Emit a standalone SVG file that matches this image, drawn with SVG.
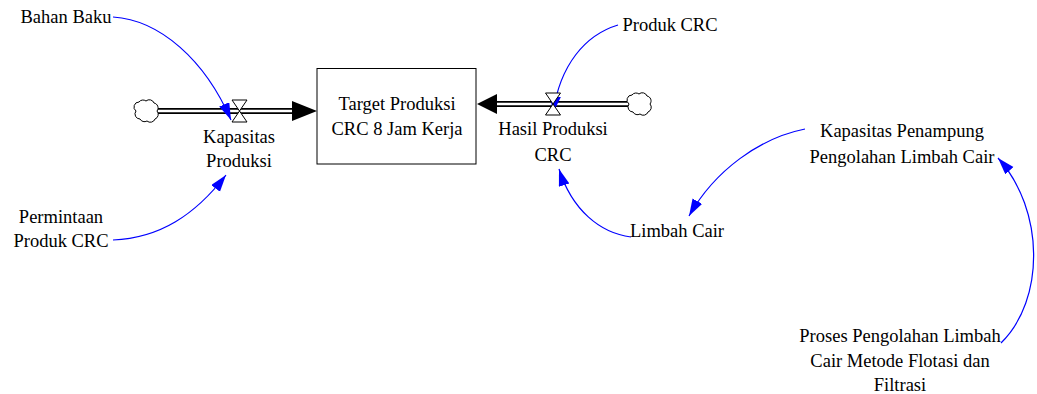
<svg xmlns="http://www.w3.org/2000/svg" width="1037" height="394" viewBox="0 0 1037 394">
<style>
text{font-family:'Liberation Serif','Times New Roman',serif;font-size:18.5px;fill:#000;text-anchor:middle}
.pipeo{stroke:#000;stroke-width:6;fill:none}
.pipei{stroke:#fff;stroke-width:2.4;fill:none}
.valve{fill:#fff;stroke:#000;stroke-width:1}
.cloud{fill:#fff;stroke:#000;stroke-width:1}
.link{fill:none;stroke:#0000ff;stroke-width:1.2;marker-end:url(#ah)}
</style>
<defs>
<marker id="ah" markerUnits="userSpaceOnUse" markerWidth="18" markerHeight="12" refX="17" refY="5.5" orient="auto">
<path d="M0,0 L17,5.5 L0,11 z" fill="#0000ff"/>
</marker>
<path id="cl" d="M-8,-9 a5,5 0 0 1 7,-1 a5,5 0 0 1 8,2 a5,5 0 0 1 3,8 a5,5 0 0 1 -2,8 a5,5 0 0 1 -8,2 a5,5 0 0 1 -7,-2 a5,5 0 0 1 -4,-8 a5,5 0 0 1 3,-9 z"/>
</defs>
<g id="connectors">
<line class="pipeo" x1="158" y1="111" x2="296" y2="111"/>
<line class="pipei" x1="157" y1="111" x2="297" y2="111"/>
<path d="M292,101 L317,111 L292,121 z" fill="#000"/>
<line class="pipeo" x1="494" y1="104" x2="630" y2="104"/>
<line class="pipei" x1="493" y1="104" x2="631" y2="104"/>
<path d="M497,94 L477,104 L497,114 z" fill="#000"/>
<path class="link" d="M113,17 C160,20 205,60 231,120"/>
<path class="link" d="M113,240 C160,238 195,215 226,175"/>
<path class="link" d="M618,25 C585,35 560,65 553,113"/>
<path class="link" d="M631,237 C600,233 572,210 559,169"/>
<path class="link" d="M805,129 C760,138 715,170 689,216"/>
<path class="link" d="M1001,343 C1045,300 1045,210 998,158"/>
</g>
<g id="cloud-left"><use href="#cl" class="cloud" transform="translate(147,111)"/></g>
<g id="cloud-right"><use href="#cl" class="cloud" transform="translate(640,104)"/></g>
<g id="stock-target">
<rect x="317" y="68.5" width="159" height="95.5" fill="#fff" stroke="#000" stroke-width="1"/>
<text x="397" y="110">Target Produksi</text>
<text x="397" y="135">CRC 8 Jam Kerja</text>
</g>
<g id="flow-kapasitas-produksi">
<path class="valve" d="M232,100 H247 L232,122 H247 Z"/>
<text x="239" y="143">Kapasitas</text>
<text x="239" y="167">Produksi</text>
</g>
<g id="flow-hasil-produksi">
<path class="valve" d="M545.5,93 H560.5 L545.5,115 H560.5 Z"/>
<text x="553" y="135">Hasil Produksi</text>
<text x="553" y="161">CRC</text>
</g>
<g id="bahan-baku"><text x="66" y="23">Bahan Baku</text></g>
<g id="permintaan"><text x="61" y="223">Permintaan</text><text x="61" y="247">Produk CRC</text></g>
<g id="produk-crc"><text x="670" y="31">Produk CRC</text></g>
<g id="limbah-cair"><text x="677" y="237">Limbah Cair</text></g>
<g id="kapasitas-penampung"><text x="902" y="137">Kapasitas Penampung</text><text x="902" y="163">Pengolahan Limbah Cair</text></g>
<g id="proses-pengolahan"><text x="900" y="342">Proses Pengolahan Limbah</text><text x="900" y="367">Cair Metode Flotasi dan</text><text x="900" y="391">Filtrasi</text></g>
</svg>
